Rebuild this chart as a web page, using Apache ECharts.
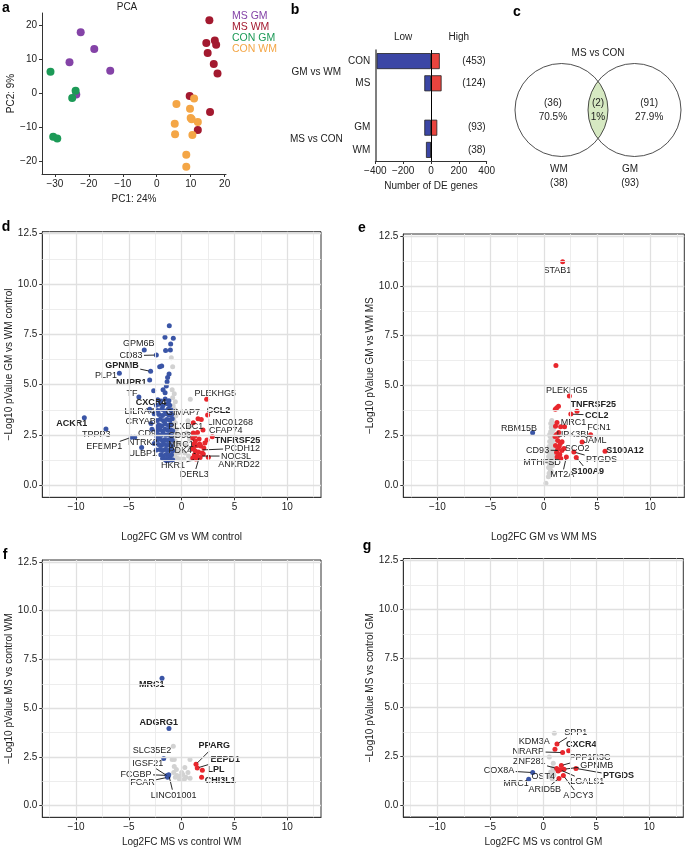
<!DOCTYPE html>
<html><head><meta charset="utf-8">
<script src="https://cdn.jsdelivr.net/npm/echarts@6/dist/echarts.min.js"></script>
<style>html,body{margin:0;padding:0;background:#fff}#c{width:685px;height:849px}</style>
</head><body><div id="c"></div>
<script>
// ---------------- DATA ----------------
// Panel a: PCA
const pcaGroups = ['MS GM', 'MS WM', 'CON GM', 'CON WM'];
const pcaMSGM = [[-22.4,18.0],[-18.4,13.1],[-25.7,9.2],[-13.7,6.7],[-23.7,-0.3]];
const pcaMSWM = [[15.5,21.5],[14.6,14.8],[17.1,15.6],[17.5,14.3],[15.0,11.9],[16.8,8.7],[17.9,5.9],[9.7,-0.7],[15.7,-5.4],[12.1,-10.7]];
const pcaCONGM = [[-31.3,6.4],[-23.9,0.8],[-24.9,-1.3],[-30.5,-12.7],[-29.3,-13.2]];
const pcaCONWM = [[11.0,-1.5],[5.8,-3.1],[9.8,-4.5],[10.0,-7.2],[10.3,-7.6],[12.1,-8.4],[5.3,-8.9],[5.4,-12.0],[10.5,-12.2],[8.7,-18.0],[8.7,-21.5]];
const pcaXTicks = [-30,-20,-10,0,10,20];
const pcaYTicks = [-20,-10,0,10,20];

// Panel b: number of DE genes
const deCategories = ['CON','MS','','GM','WM'];
const deLow  = [-390,-48,null,-48,-36];
const deHigh = [63,76,null,45,2];
const deTotals = ['(453)','(124)','','(93)','(38)'];
const deGroups = ['GM vs WM','MS vs CON'];
const deGroupSpans = [[0,1],[3,4]];
const deDirections = ['Low','High'];
const deDirPos = [-200,200];

// Panel c: Venn
const vennTitle = 'MS vs CON';
const vennSets = ['WM','GM'];
const vennSizes = [38,93];
const vennOnly = [36,91];
const vennOnlyPct = ['70.5%','27.9%'];
const vennShared = 2;
const vennSharedPct = '1%';

// Volcano axes
const volcXTicks = [-10,-5,0,5,10];
const volcYTicks = [0,2.5,5,7.5,10,12.5];
const volcXMinor = [-12.5,-7.5,-2.5,2.5,7.5,12.5];
const volcYMinor = [1.25,3.75,6.25,8.75,11.25];

// Panel d: GM vs WM control
const dBlue = [[-1.17,7.93],[-1.58,7.35],[-0.79,7.30],[-1.04,7.02],[-1.07,6.72],[-1.52,6.69],[-3.54,6.72],[-2.40,6.47],[-2.08,5.89],[-1.89,5.93],[-2.94,5.66],[-5.90,5.56],[-3.03,5.23],[-1.33,5.36],[-1.19,5.53],[-1.38,5.14],[-1.45,4.93],[-2.65,4.70],[-1.76,4.74],[-1.57,4.60],[-4.05,4.38],
[-2.26,4.25],[-1.97,4.18],[-1.56,4.28],[-1.21,4.20],
[-2.39,3.98],[-2.07,4.03],[-1.77,3.95],[-1.38,4.05],[-1.13,3.97],
[-2.27,3.72],[-1.89,3.78],[-1.61,3.70],[-1.25,3.80],[-1.01,3.74],
[-2.14,3.52],[-1.81,3.46],[-1.51,3.55],[-1.21,3.48],[-0.95,3.51],
[-2.33,3.22],[-2.02,3.28],[-1.72,3.20],[-1.41,3.27],[-1.11,3.23],[-0.89,3.30],
[-2.17,3.01],[-1.87,2.96],[-1.56,3.04],[-1.25,2.97],[-1.01,3.02],
[-2.37,2.72],[-2.07,2.77],[-1.81,2.70],[-1.56,2.78],[-1.31,2.73],[-1.06,2.76],[-0.85,2.71],
[-2.22,2.52],[-1.97,2.47],[-1.72,2.54],[-1.46,2.48],[-1.21,2.51],[-0.96,2.46],
[-2.33,2.23],[-2.07,2.28],[-1.81,2.21],[-1.61,2.26],[-1.36,2.22],[-1.11,2.27],[-0.89,2.24],
[-2.17,2.02],[-1.92,1.97],[-1.66,2.04],[-1.41,1.98],[-1.16,2.01],[-0.96,1.96],
[-2.07,1.77],[-1.81,1.72],[-1.56,1.78],[-1.31,1.73],[-1.06,1.76],[-0.85,1.71],
[-1.97,1.52],[-1.72,1.47],[-1.46,1.53],[-1.21,1.49],[-0.96,1.51],
[-1.81,1.33],[-1.56,1.28],[-1.31,1.35],[-1.06,1.30],[-0.85,1.27],[-1.43,1.22],[-1.19,1.24],
[-3.03,3.78],[-2.60,3.55],[-2.90,3.07],[-2.81,2.78],[-2.30,2.90],[-2.34,2.41],[-4.77,2.38],[-4.45,2.38],[-3.79,1.88],[-2.60,2.08],[-2.40,1.75],[-9.22,3.35],[-7.17,2.79]];
const dGray = [[-0.98,6.34],[-0.85,5.89],[-0.90,4.75],[-0.70,4.55],[-0.85,4.35],[-0.60,4.15],[-0.80,3.95],[-0.65,3.75],[-0.90,3.60],[-0.55,3.45],[-0.75,3.30],[-0.60,3.10],[-0.85,2.95],[-0.50,2.80],[-0.70,2.65],[-0.45,2.50],[-0.80,2.35],[-0.60,2.20],[-0.35,2.05],[-0.70,1.90],[-0.50,1.75],[-0.30,1.60],[-0.65,1.50],[-0.45,1.35],[-0.20,1.30],[0.82,4.27],[0.60,3.20],[0.70,2.90],[0.50,2.60],[0.75,2.30],[0.45,2.00],[0.80,1.80],[0.30,1.60],[0.65,1.45],[0.90,1.30],[0.20,1.30],[-0.95,2.10],[-0.95,1.60]];
const dRed = [[2.37,4.27],[2.46,3.49],[1.55,3.30],[1.86,3.27],[1.10,3.10],[2.02,2.74],[2.90,2.41],[2.40,2.25],[1.10,2.60],[1.50,2.62],[1.05,2.35],[1.30,2.20],[1.65,2.30],[1.15,2.05],[1.45,1.98],[1.80,1.95],[2.10,1.85],[1.05,1.80],[1.30,1.70],[1.60,1.65],[1.95,1.60],[1.20,1.50],[1.50,1.45],[1.75,1.38],[2.53,1.39],[1.05,1.35],[1.35,1.30],[2.05,1.55],[1.15,1.90],[1.70,2.05],[1.25,2.45],[2.20,2.10]];
// [gene, point x, point y, label x, label y, bold, leader line]
const dLabels = [['GPM6B',-3.54,6.72,-4.07,7.02,0,0],['CD83',-2.40,6.47,-4.80,6.44,0,1],['GPNMB',-2.94,5.66,-5.65,5.96,1,1],['PLP1',-5.90,5.56,-7.17,5.43,0,0],['NUPR1',-3.03,5.23,-4.77,5.10,1,0],['TF',-4.05,4.38,-4.70,4.55,0,0],['CXCR4',-1.38,4.05,-2.90,4.12,1,1],['LILRA4',-3.03,3.78,-3.98,3.67,0,0],['CRYAB',-2.90,3.07,-3.88,3.17,0,0],['ACKR1',-9.22,3.35,-10.42,3.07,1,0],['TPPP3',-7.17,2.79,-8.08,2.50,0,0],['CD9',-2.81,2.78,-3.28,2.58,0,0],['EFEMP1',-4.77,2.38,-7.32,1.91,0,1],['NTRK2',-4.45,2.38,-3.69,2.13,0,0],['ULBP1',-3.79,1.88,-3.69,1.58,0,0],['GIMAP7',-0.65,3.75,0.13,3.62,0,0],['PLEKHG5',2.37,4.27,3.19,4.58,0,0],['CCL2',2.46,3.49,3.50,3.73,1,0],['LINC01268',1.86,3.27,4.61,3.14,0,0],['PLXDC1',-0.60,3.10,0.38,2.94,0,0],['CFAP74',2.02,2.74,4.17,2.74,0,0],['CD93',1.30,2.20,-0.19,2.49,0,1],['TNFRSF25',2.90,2.41,5.30,2.24,1,0],['MRC1',1.60,1.95,-0.06,2.00,0,1],['PCDH12',1.80,1.75,5.75,1.84,0,1],['PDK4',1.50,1.55,-0.13,1.72,0,1],['NOC3L',1.75,1.45,5.15,1.45,0,1],['ANKRD22',2.53,1.39,5.43,1.04,0,0],['HKR1',1.35,1.30,-0.82,0.96,0,1],['DERL3',1.70,1.45,1.20,0.54,0,1]];

// Panel e: GM vs WM MS
const eBlue = [[-1.05,2.64]];
const eGray = [[0.75,3.25],[0.85,3.05],[0.70,2.90],[0.90,2.80],[0.65,2.70],[0.80,2.60],[0.95,2.50],[0.60,2.45],[0.75,2.35],[0.90,2.25],[0.55,2.20],[0.70,2.10],[0.85,2.00],[0.50,1.95],[0.65,1.85],[0.80,1.80],[0.95,1.70],[0.55,1.65],[0.70,1.55],[0.85,1.50],[0.45,1.45],[0.60,1.35],[0.75,1.30],[0.90,1.20],[0.50,1.15],[0.65,1.05],[0.80,1.00],[0.45,0.90],[0.60,0.80],[0.70,0.70],[0.50,0.60],[0.43,0.43],[0.20,0.10],[1.00,1.90],[1.05,1.40],[0.55,2.55],[0.65,3.10],[0.40,1.70],[0.35,1.20],[0.55,0.95]];
const eRed = [[1.77,11.21],[1.14,6.01],[2.40,4.48],[1.38,3.96],[1.08,3.81],[1.22,3.89],[3.12,3.71],[2.54,3.57],[1.24,3.15],[1.95,2.94],[1.58,2.94],[1.10,2.96],[4.40,2.54],[1.20,2.55],[1.35,2.50],[1.05,2.45],[1.40,2.65],[3.60,2.17],[1.71,2.19],[1.30,2.25],[1.55,2.10],[5.75,1.71],[2.82,1.67],[3.05,1.40],[2.12,1.42],[1.90,1.85],[1.70,1.75],[1.30,1.80],[1.20,1.65],[1.50,1.55],[1.25,1.42],[1.60,1.35],[1.10,2.00],[1.45,1.95]];
const eLabels = [['STAB1',1.77,11.21,1.27,10.76,0,0],['PLEKHG5',2.40,4.48,2.15,4.74,0,0],['TNFRSF25',3.12,3.71,4.65,4.07,1,0],['CCL2',2.54,3.57,4.97,3.52,1,1],['MRC1',1.24,3.15,2.78,3.17,0,0],['FCN1',4.40,2.54,5.18,2.90,0,0],['RBM15B',-1.05,2.64,-2.33,2.86,0,0],['UPK3BL',1.40,2.50,2.84,2.57,0,1],['JAML',3.60,2.17,4.81,2.24,0,0],['CD93',1.50,1.75,-0.58,1.77,0,1],['SCO2',1.70,1.75,3.15,1.85,0,1],['S100A12',5.75,1.71,7.63,1.74,1,0],['PTGDS',2.82,1.67,5.43,1.28,0,1],['MTHFSD',1.25,1.42,-0.17,1.15,0,1],['S100A9',3.05,1.40,4.12,0.70,1,1],['MT2A',2.12,1.42,1.74,0.53,0,1]];

// Panel f: MS vs control WM
const fBlue = [[-1.86,6.53],[-1.20,3.96],[-1.70,2.42],[-1.38,1.55],[-1.28,1.50],[-1.33,1.45],[-1.22,1.58]];
const fGray = [[-0.79,3.05],[-0.90,2.37],[-0.70,2.37],[0.79,2.37],[-0.70,2.00],[-0.50,1.85],[-0.75,1.70],[-0.45,1.55],[-0.15,1.50],[0.30,1.95],[0.60,1.70],[0.10,1.60],[0.80,1.40],[-0.20,1.35],[0.40,1.45],[-0.60,1.45],[0.00,1.70],[0.25,1.35]];
const fRed = [[1.36,2.12],[1.48,1.93],[1.96,1.82],[1.89,1.45]];
const fLabels = [['MRC1',-1.86,6.53,-2.84,6.22,1,0],['ADGRG1',-1.20,3.96,-2.18,4.25,1,0],['SLC35E2',-1.70,2.42,-2.81,2.85,0,0],['PPARG',1.36,2.12,3.09,3.06,1,1],['EEPD1',1.48,1.93,4.14,2.37,1,1],['LPL',1.96,1.82,3.25,1.83,1,0],['CHI3L1',1.89,1.45,3.66,1.31,1,0],['IGSF21',-1.28,1.50,-3.22,2.17,0,1],['FCGBP',-1.38,1.55,-4.32,1.61,0,1],['FCAR',-1.33,1.45,-3.72,1.18,0,1],['LINC01001',-1.22,1.58,-0.76,0.54,0,1]];

// Panel g: MS vs control GM
const gBlue = [[-1.00,1.67],[-1.38,1.33]];
const gGray = [[1.04,3.68],[0.57,2.47],[0.94,2.15],[0.90,1.90],[0.95,1.75],[0.75,1.60],[0.60,1.45],[1.00,1.55],[0.85,1.35],[0.70,1.70]];
const gRed = [[1.29,3.13],[1.10,2.86],[2.39,2.78],[1.82,2.69],[1.70,2.03],[1.26,1.88],[1.95,1.84],[1.57,1.81],[3.08,1.88],[1.89,1.52],[1.48,1.37],[1.40,1.75]];
const gLabels = [['SPP1',1.29,3.13,3.05,3.73,0,1],['KDM3A',1.10,2.86,-0.85,3.25,0,0],['CXCR4',2.39,2.78,3.58,3.12,1,0],['NRARP',1.82,2.69,-1.41,2.74,0,1],['PPP1R3C',1.70,2.03,4.40,2.44,0,1],['ZNF281',1.26,1.88,-1.32,2.25,0,1],['GPNMB',1.95,1.84,5.03,2.05,0,1],['COX8A',-1.00,1.67,-4.18,1.77,0,1],['OST4',0.60,1.45,0.00,1.47,0,0],['PTGDS',3.08,1.88,7.10,1.50,1,1],['MRC1',-1.38,1.33,-2.58,1.13,0,0],['LGALS1',1.57,1.81,4.15,1.21,0,1],['ARID5B',1.48,1.37,0.13,0.79,0,1],['ADCY3',1.89,1.52,3.30,0.50,0,1]];

// ---------------- STYLE ----------------
const FONT = '"Liberation Sans", Arial, Helvetica, sans-serif';
const TXT = '#222';
const AX = '#333';
const pcaColors = ['#8443a7','#a3192f','#1c9a57','#f4a646'];
const C_BLUE = '#3a55a6', C_RED = '#e8272d', C_GRAY = '#d2d2d2';
const GENE_FS = 9;
const TICK_FS = 10;
const NAME_FS = 10;

const fmtMinus = v => (v < 0 ? '\u2212' + Math.abs(v) : String(v));
const fmtY1 = v => (v < 0 ? '\u2212' : '') + Math.abs(v).toFixed(1);

const mctx = document.createElement('canvas').getContext('2d');
function textW(t, bold, size) { mctx.font = (bold ? 'bold ' : '') + size + 'px ' + FONT; return mctx.measureText(t).width; }

function makeLabelRender(list) {
  return function (params, api) {
    const it = list[params.dataIndex];
    const p = api.coord([it[1], it[2]]);
    const c = api.coord([it[3], it[4]]);
    const bold = it[5] === 1;
    const children = [];
    if (it[6] === 1) {
      const hw = textW(it[0], bold, GENE_FS) / 2 + 1.5, hh = GENE_FS * 0.6;
      const dx = p[0] - c[0], dy = p[1] - c[1];
      const t = Math.min(dx === 0 ? Infinity : hw / Math.abs(dx), dy === 0 ? Infinity : hh / Math.abs(dy));
      if (t < 1) {
        const ex = c[0] + dx * t, ey = c[1] + dy * t;
        const len = Math.hypot(p[0] - ex, p[1] - ey);
        const sx = p[0] - (p[0] - ex) / len * 2, sy = p[1] - (p[1] - ey) / len * 2;
        children.push({ type: 'line', shape: { x1: ex, y1: ey, x2: sx, y2: sy }, style: { stroke: '#111', lineWidth: 0.9 } });
      }
    }
    children.push({ type: 'text', x: c[0], y: c[1], style: { text: it[0], fill: TXT, fontSize: GENE_FS, fontWeight: bold ? 'bold' : 'normal', fontFamily: FONT, align: 'center', verticalAlign: 'middle' } });
    return { type: 'group', children };
  };
}

// ---------------- GRIDS ----------------
const grids = [
  { left: 42, top: 13, width: 184, height: 161 },          // a
  { left: 375.3, top: 50, width: 111.4, height: 111 },    // b
  { left: 505, top: 40.25, width: 186, height: 139.5 },   // c
  { left: 42.3, top: 231.7, width: 278.7, height: 265.6 },// d
  { left: 403.3, top: 234, width: 281, height: 263.3 },   // e
  { left: 42.3, top: 560, width: 278.7, height: 257.3 },  // f
  { left: 403.3, top: 558.5, width: 280, height: 258.5 }  // g
].map((g, i) => Object.assign({ containLabel: false, outerBoundsMode: 'none' }, g,
  i >= 3 ? { show: true, borderColor: AX, borderWidth: 1, backgroundColor: 'transparent' } : {}));

const xAxes = [], yAxes = [], series = [];

// ---- a: PCA ----
xAxes.push({ gridIndex: 0, type: 'value', min: -33.8, max: 20.4, name: 'PC1: 24%', nameLocation: 'middle', nameGap: 20,
  nameTextStyle: { fontSize: NAME_FS, color: TXT, fontFamily: FONT },
  axisLine: { show: true, onZero: false, lineStyle: { color: AX } },
  axisTick: { show: true, customValues: pcaXTicks, length: 3, lineStyle: { color: AX } },
  axisLabel: { customValues: pcaXTicks, formatter: fmtMinus, fontSize: TICK_FS, color: TXT, fontFamily: FONT, margin: 5 },
  splitLine: { show: false } });
yAxes.push({ gridIndex: 0, type: 'value', min: -23.65, max: 23.65, name: 'PC2: 9%', nameLocation: 'middle', nameGap: 26,
  nameTextStyle: { fontSize: NAME_FS, color: TXT, fontFamily: FONT },
  axisLine: { show: true, onZero: false, lineStyle: { color: AX } },
  axisTick: { show: true, customValues: pcaYTicks, length: 3, lineStyle: { color: AX } },
  axisLabel: { customValues: pcaYTicks, formatter: fmtMinus, fontSize: TICK_FS, color: TXT, fontFamily: FONT, margin: 5 },
  splitLine: { show: false } });
[pcaMSGM, pcaMSWM, pcaCONGM, pcaCONWM].forEach((d, i) => {
  series.push({ type: 'scatter', name: pcaGroups[i], xAxisIndex: 0, yAxisIndex: 0, data: d, symbolSize: 8,
    itemStyle: { color: pcaColors[i], opacity: 1 }, z: 3 });
});

// ---- b: DE genes ----
const bX = xAxes.length;
xAxes.push({ gridIndex: 1, type: 'value', min: -400, max: 400, interval: 200, name: 'Number of DE genes', nameLocation: 'middle', nameGap: 20,
  nameTextStyle: { fontSize: NAME_FS, color: TXT, fontFamily: FONT },
  axisLine: { show: true, onZero: false, lineStyle: { color: AX } },
  axisTick: { show: true, length: 3, lineStyle: { color: AX } },
  axisLabel: { formatter: fmtMinus, fontSize: TICK_FS, color: TXT, fontFamily: FONT, margin: 5 },
  splitLine: { show: false } });
xAxes.push({ gridIndex: 1, type: 'value', position: 'top', min: -400, max: 400,
  axisLine: { show: false }, axisTick: { show: false }, splitLine: { show: false },
  axisLabel: { customValues: deDirPos, formatter: v => deDirections[deDirPos.indexOf(v)], fontSize: TICK_FS, color: TXT, fontFamily: FONT, margin: 8 } });
const bY = yAxes.length;
yAxes.push({ gridIndex: 1, type: 'category', data: deCategories, inverse: true,
  axisLine: { show: true, onZero: false, lineStyle: { color: '#555', width: 1.5 } }, axisTick: { show: false },
  axisLabel: { fontSize: TICK_FS, color: TXT, fontFamily: FONT, margin: 5 } });
const deGroupPos = deGroupSpans.map(s => (s[0] + s[1]) / 2 + 0.5);
yAxes.push({ gridIndex: 1, type: 'value', min: 0, max: deCategories.length, inverse: true, position: 'left',
  axisLine: { show: false }, axisTick: { show: false }, splitLine: { show: false },
  axisLabel: { customValues: deGroupPos, formatter: v => deGroups[deGroupPos.indexOf(v)], align: 'center', margin: 59,
    fontSize: TICK_FS, color: TXT, fontFamily: FONT } });
yAxes.push({ gridIndex: 1, type: 'category', data: deTotals, inverse: true, position: 'right',
  axisLine: { show: false }, axisTick: { show: false }, splitLine: { show: false },
  axisLabel: { inside: true, margin: 1, fontSize: TICK_FS, color: TXT, fontFamily: FONT } });
series.push({ type: 'bar', name: 'low', xAxisIndex: bX, yAxisIndex: bY, data: deLow, barWidth: 16, barGap: '-100%',
  itemStyle: { color: '#3b46a5', borderColor: '#222', borderWidth: 0.8 }, z: 2,
  markLine: { silent: true, symbol: ['none', 'none'], label: { show: false }, lineStyle: { color: '#000', width: 1, type: 'solid' }, data: [{ xAxis: 0 }] } });
series.push({ type: 'bar', name: 'high', xAxisIndex: bX, yAxisIndex: bY, data: deHigh, barWidth: 16, barGap: '-100%',
  itemStyle: { color: '#e8443e', borderColor: '#222', borderWidth: 0.8 }, z: 2 });

// ---- c: Venn ----
const cX = xAxes.length, cY = yAxes.length;
xAxes.push({ gridIndex: 2, type: 'value', min: -2, max: 2, show: false });
yAxes.push({ gridIndex: 2, type: 'value', min: -1.5, max: 1.5, show: false });
const VENN_D = 0.785, VENN_R = 1;
series.push({ type: 'custom', xAxisIndex: cX, yAxisIndex: cY, clip: false, silent: true,
  data: [[-VENN_D, 0, VENN_D, 0]],
  renderItem: function (params, api) {
    const cL = api.coord([api.value(0), 0]), cR = api.coord([api.value(2), 0]);
    const r = api.size([VENN_R, 0])[0];
    const a = Math.acos(VENN_D / VENN_R), pts = [];
    for (let k = 0; k <= 40; k++) { const t = -a + 2 * a * k / 40; pts.push(api.coord([-VENN_D + VENN_R * Math.cos(t), VENN_R * Math.sin(t)])); }
    for (let k = 0; k <= 40; k++) { const t = Math.PI - a + 2 * a * k / 40; pts.push(api.coord([VENN_D + VENN_R * Math.cos(t), VENN_R * Math.sin(t)])); }
    const ts = { fill: TXT, fontSize: TICK_FS, fontFamily: FONT, align: 'center', verticalAlign: 'middle', lineHeight: 14 };
    const tt = (pos, text) => { const q = api.coord(pos); return { type: 'text', x: q[0], y: q[1], style: Object.assign({ text }, ts) }; };
    return { type: 'group', children: [
      { type: 'polygon', shape: { points: pts }, style: { fill: '#d6e9c2', stroke: null } },
      { type: 'circle', shape: { cx: cL[0], cy: cL[1], r }, style: { fill: 'none', stroke: '#222', lineWidth: 0.8 } },
      { type: 'circle', shape: { cx: cR[0], cy: cR[1], r }, style: { fill: 'none', stroke: '#222', lineWidth: 0.8 } },
      tt([0, 1.23], vennTitle),
      tt([-0.97, 0], '(' + vennOnly[0] + ')\n' + vennOnlyPct[0]),
      tt([0, 0], '(' + vennShared + ')\n' + vennSharedPct),
      tt([1.1, 0], '(' + vennOnly[1] + ')\n' + vennOnlyPct[1]),
      tt([-0.84, -1.43], vennSets[0] + '\n(' + vennSizes[0] + ')'),
      tt([0.69, -1.43], vennSets[1] + '\n(' + vennSizes[1] + ')')
    ] };
  } });

// ---- d-g: volcano plots ----
const volcanoes = [
  { grid: 3, xName: 'Log2FC GM vs WM control', yName: '\u2212Log10 pValue GM vs WM control', xGap: 35, blue: dBlue, gray: dGray, red: dRed, labels: dLabels },
  { grid: 4, xName: 'Log2FC GM vs WM MS', yName: '\u2212Log10 pValue GM vs WM MS', xGap: 35, blue: eBlue, gray: eGray, red: eRed, labels: eLabels },
  { grid: 5, xName: 'Log2FC MS vs control WM', yName: '\u2212Log10 pValue MS vs control WM', xGap: 20, blue: fBlue, gray: fGray, red: fRed, labels: fLabels },
  { grid: 6, xName: 'Log2FC MS vs control GM', yName: '\u2212Log10 pValue MS vs control GM', xGap: 20, blue: gBlue, gray: gGray, red: gRed, labels: gLabels }
];
volcanoes.forEach(v => {
  const xi = xAxes.length, yi = yAxes.length;
  xAxes.push({ gridIndex: v.grid, type: 'value', min: -13.2, max: 13.2, name: v.xName, nameLocation: 'middle', nameGap: v.xGap,
    nameTextStyle: { fontSize: NAME_FS, color: TXT, fontFamily: FONT },
    axisLine: { show: true, onZero: false, lineStyle: { color: AX } },
    axisTick: { show: true, customValues: volcXTicks, length: 3, lineStyle: { color: AX } },
    axisLabel: { customValues: volcXTicks, formatter: fmtMinus, fontSize: TICK_FS, color: TXT, fontFamily: FONT, margin: 5 },
    splitLine: { show: false } });
  yAxes.push({ gridIndex: v.grid, type: 'value', min: -0.6, max: 12.6, name: v.yName, nameLocation: 'middle', nameGap: 28,
    nameTextStyle: { fontSize: NAME_FS, color: TXT, fontFamily: FONT },
    axisLine: { show: true, onZero: false, lineStyle: { color: AX } },
    axisTick: { show: true, customValues: volcYTicks, length: 3, lineStyle: { color: AX } },
    axisLabel: { customValues: volcYTicks, formatter: fmtY1, fontSize: TICK_FS, color: TXT, fontFamily: FONT, margin: 5 },
    splitLine: { show: false } });
  const major = { color: '#e0e0e0', width: 1.3 }, minor = { color: '#ebebeb', width: 0.9 };
  const ml = [].concat(
    volcXMinor.map(x => ({ xAxis: x, lineStyle: minor })), volcYMinor.map(y => ({ yAxis: y, lineStyle: minor })),
    volcXTicks.map(x => ({ xAxis: x, lineStyle: major })), volcYTicks.map(y => ({ yAxis: y, lineStyle: major })));
  series.push({ type: 'scatter', xAxisIndex: xi, yAxisIndex: yi, data: [], z: 1, silent: true,
    markLine: { silent: true, symbol: ['none', 'none'], label: { show: false }, lineStyle: { type: 'solid' }, data: ml } });
  series.push({ type: 'scatter', xAxisIndex: xi, yAxisIndex: yi, data: v.gray, symbolSize: 5, itemStyle: { color: C_GRAY, opacity: 1 }, z: 2 });
  series.push({ type: 'scatter', xAxisIndex: xi, yAxisIndex: yi, data: v.blue, symbolSize: 5, itemStyle: { color: C_BLUE, opacity: 1 }, z: 3 });
  series.push({ type: 'scatter', xAxisIndex: xi, yAxisIndex: yi, data: v.red, symbolSize: 5, itemStyle: { color: C_RED, opacity: 1 }, z: 3 });
  series.push({ type: 'custom', xAxisIndex: xi, yAxisIndex: yi, clip: false, silent: true, z: 4,
    data: v.labels.map(l => [l[1], l[2], l[3], l[4]]), encode: { x: [0, 2], y: [1, 3] },
    renderItem: makeLabelRender(v.labels) });
});

// panel letters & title
const letter = (t, x, y) => ({ type: 'text', x, y, style: { text: t, fontSize: 14, fontWeight: 'bold', fill: '#000', fontFamily: FONT, align: 'center', verticalAlign: 'middle' } });
const graphic = [
  letter('a', 6, 8), letter('b', 295, 10), letter('c', 517, 12),
  letter('d', 6, 227), letter('e', 362, 228), letter('f', 5, 555), letter('g', 367, 546),
  { type: 'text', x: 127, y: 7, style: { text: 'PCA', fontSize: 10, fill: TXT, fontFamily: FONT, align: 'center', verticalAlign: 'middle' } }
];

const chart = echarts.init(document.getElementById('c'), null, { renderer: 'canvas' });
chart.setOption({
  animation: false,
  backgroundColor: '#fff',
  textStyle: { fontFamily: FONT },
  grid: grids,
  xAxis: xAxes,
  yAxis: yAxes,
  legend: { orient: 'vertical', left: 227, top: 11, padding: 0, itemGap: 0, itemWidth: 0, itemHeight: 0, selectedMode: false,
    textStyle: { fontSize: 10.5, fontFamily: FONT },
    data: pcaGroups.map((g, i) => ({ name: g, textStyle: { color: pcaColors[i] } })) },
  graphic,
  series
});
</script></body></html>
